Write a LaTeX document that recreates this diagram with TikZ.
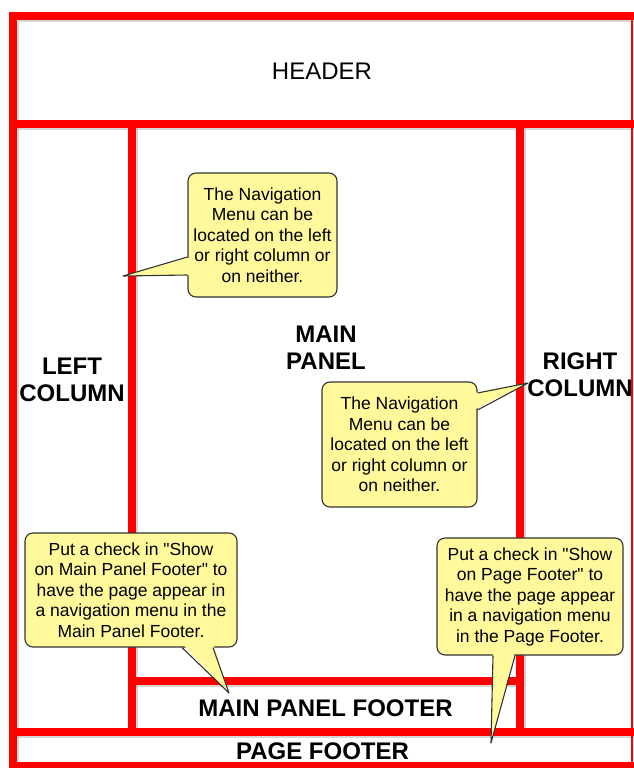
\documentclass[tikz,border=0pt]{standalone}
\usepackage{fontspec}
\setmainfont{Liberation Sans}[Ligatures=TeXOff]
\usetikzlibrary{calc}
\definecolor{fr}{HTML}{FF0000}
\definecolor{tipc}{HTML}{FFF99C}
\begin{document}
\begin{tikzpicture}[x=1pt,y=-1pt,
 frame/.style={draw=fr, line width=7.5pt, line join=miter},
 shadowline/.style={draw=black!40, line width=7.5pt, opacity=.4},
 lbl/.style={font=\fontsize{24}{27}\selectfont\bfseries, align=center, inner sep=0pt},
 hdr/.style={font=\fontsize{24}{27}\selectfont, inner sep=0pt},
 callout/.style={draw=black!80, fill=tipc, line width=1.1pt, rounded corners=8pt, align=center, font=\fontsize{17.5}{20.5}\selectfont, inner sep=0pt},
 wedgeline/.style={draw=black!80, line width=1.1pt, line join=round},
]
\useasboundingbox (0,0) rectangle (633,768);
\fill[white] (0,0) rectangle (633,768);
% shadows of the frame
\begin{scope}[shift={(2.5,2.5)}]
\draw[shadowline] (640,16) -- (13,16) -- (13,780);
\draw[shadowline] (13,124) -- (640,124);
\draw[shadowline] (132,124) -- (132,732);
\draw[shadowline] (520,124) -- (520,732);
\draw[shadowline] (132,681) -- (520,681);
\draw[shadowline] (13,732) -- (640,732);
\end{scope}
% frame
\draw[frame] (640,16) -- (13,16) -- (13,780);
\draw[frame] (13,124) -- (640,124);
\draw[frame] (132,124) -- (132,732);
\draw[frame] (520,124) -- (520,732);
\draw[frame] (132,681) -- (520,681);
\draw[frame] (13,732) -- (640,732);
\draw[frame] (13,766) -- (640,766);
\draw[fr, line width=1.5pt] (632,16) -- (632,768);
% labels
\node[hdr] (header) at (322,71) {HEADER};
\node[lbl] (left) at (72,380) {LEFT\\COLUMN};
\node[lbl] (main) at (326,347.5) {MAIN\\PANEL};
\node[lbl] (right) at (580,375) {RIGHT\\COLUMN};
\node[lbl] (mpf) at (325.5,708) {MAIN PANEL FOOTER};
\node[lbl] (pf) at (322.5,751.5) {PAGE FOOTER};
% callouts
\node[callout, minimum width=149pt, minimum height=124pt] (c1) at (262.5,235)
 {The Navigation\\Menu can be\\located on the left\\or right column or\\on neither.};
\coordinate (t1) at (123,276);
\fill[tipc] ($(c1.west)+(4,22)$) -- (t1) -- ($(c1.west)+(4,40)$) -- cycle;
\draw[wedgeline] ($(c1.west)+(0,22)$) -- (t1) -- ($(c1.west)+(0,40)$);

\node[callout, minimum width=155pt, minimum height=125pt] (c2) at (399.5,444.5)
 {The Navigation\\Menu can be\\located on the left\\or right column or\\on neither.};
\coordinate (t2) at (528,383);
\fill[tipc] ($(c2.east)+(-4,-51.5)$) -- (t2) -- ($(c2.east)+(-4,-34.5)$) -- cycle;
\draw[wedgeline] ($(c2.east)+(0,-51.5)$) -- (t2) -- ($(c2.east)+(0,-34.5)$);

\node[callout, minimum width=212pt, minimum height=114pt] (c3) at (131,590)
 {Put a check in "Show\\on Main Panel Footer" to\\have the page appear in\\a navigation menu in the\\Main Panel Footer.};
\coordinate (t3) at (229,693);
\fill[tipc] ($(c3.south)+(51,-4)$) -- (t3) -- ($(c3.south)+(82,-4)$) -- cycle;
\draw[wedgeline] ($(c3.south)+(51,0)$) -- (t3) -- ($(c3.south)+(82,0)$);

\node[callout, minimum width=186pt, minimum height=117pt] (c4) at (530,596.5)
 {Put a check in "Show\\on Page Footer" to\\have the page appear\\in a navigation menu\\in the Page Footer.};
\coordinate (t4) at (491,743);
\fill[tipc] ($(c4.south)+(-37,-4)$) -- (t4) -- ($(c4.south)+(-15,-4)$) -- cycle;
\draw[wedgeline] ($(c4.south)+(-37,0)$) -- (t4) -- ($(c4.south)+(-15,0)$);
\end{tikzpicture}
\end{document}
